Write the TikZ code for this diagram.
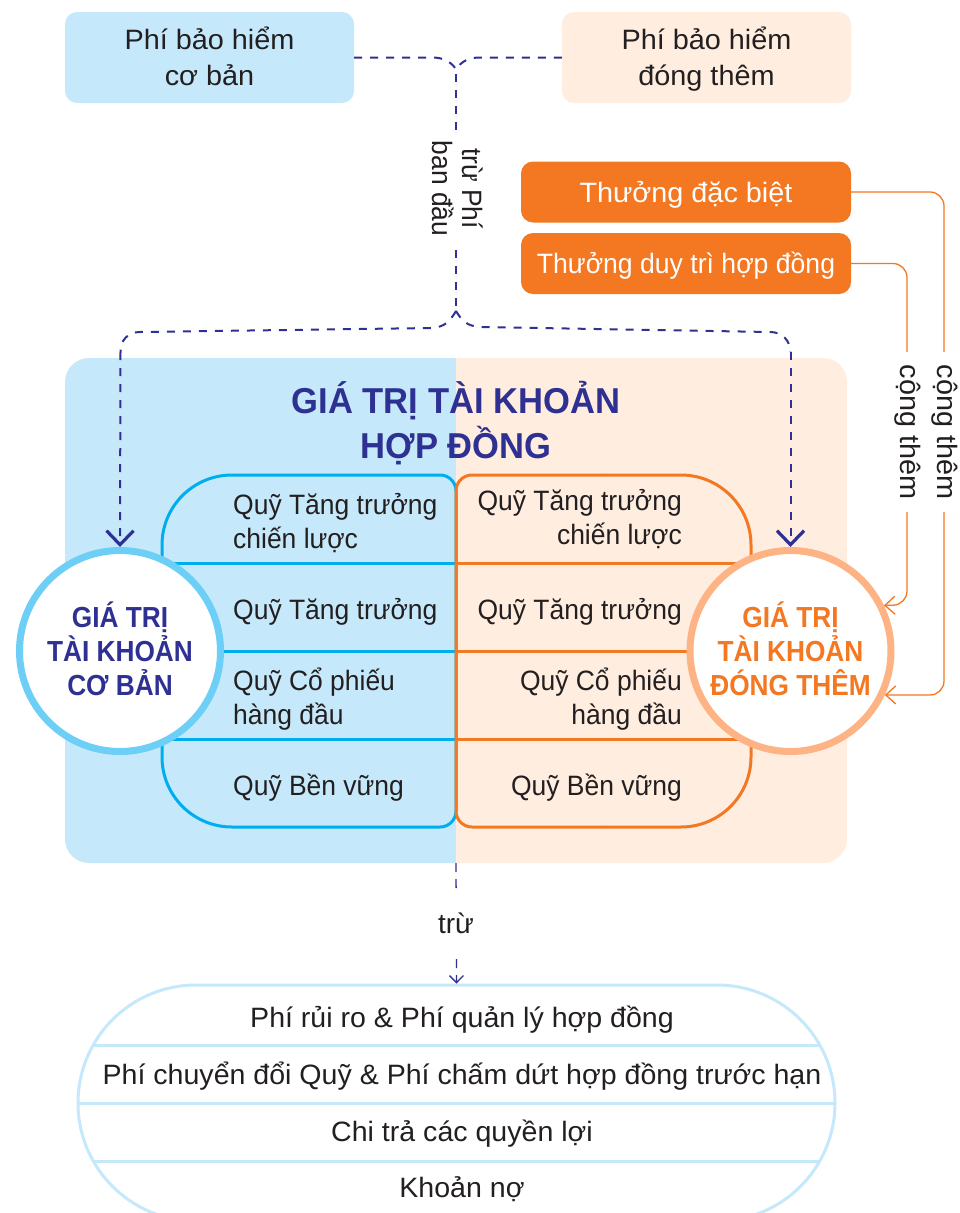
\documentclass[tikz,border=0pt]{standalone}
\usepackage{fontspec}
\setmainfont{Liberation Sans}
\newfontfamily\ffund[FakeStretch=0.945]{Liberation Sans}
\newfontfamily\fwide[FakeStretch=1.03]{Liberation Sans}
\newfontfamily\fbot[FakeStretch=1.02]{Liberation Sans}
\newfontfamily\fkeep[FakeStretch=0.95]{Liberation Sans}
\newfontfamily\ftitle[FakeStretch=0.96]{Liberation Sans}
\newfontfamily\fring[FakeStretch=0.905]{Liberation Sans}
\usetikzlibrary{arrows.meta}
\definecolor{navy}{HTML}{2E3192}
\definecolor{orng}{HTML}{F47721}
\definecolor{txt}{HTML}{231F20}
\definecolor{pblue}{HTML}{C5E9FA}
\definecolor{ppeach}{HTML}{FFEDE0}
\definecolor{cyanl}{HTML}{00AEEF}
\definecolor{ringb}{HTML}{6DCFF6}
\definecolor{ringo}{HTML}{FDB384}
\newcommand{\st}{\rule[-7pt]{0pt}{34pt}}
\newcommand{\sv}{\rule[-7pt]{0pt}{30pt}}
\newcommand{\sr}{\rule[-5pt]{0pt}{5pt}}
\tikzset{
  base/.style={font=\fontsize{28}{34}\selectfont, text=txt, inner sep=0pt},
  topbox/.style={font=\fwide\fontsize{28}{36}\selectfont, text=txt, inner sep=0pt, rounded corners=12pt, minimum width=289pt, minimum height=91pt, align=center},
  bonus/.style={text=white, fill=orng, rounded corners=12pt, minimum width=330pt, minimum height=61pt, inner sep=0pt},
  fund/.style={font=\ffund\fontsize{28}{34}\selectfont, text=txt, inner sep=0pt, align=left, anchor=west},
  fundr/.style={font=\ffund\fontsize{28}{34}\selectfont, text=txt, inner sep=0pt, align=right, anchor=east},
  cost/.style={font=\fbot\fontsize{28}{34}\selectfont, text=txt, inner sep=0pt},
  ring/.style={circle, fill=white, line width=7pt, minimum size=201pt, inner sep=0pt, align=center, font=\fring\fontsize{29}{34}\selectfont\bfseries},
  dash1/.style={navy, line width=2pt, dash pattern=on 8pt off 8pt},
  dash2/.style={navy, line width=1.3pt, dash pattern=on 9pt off 7pt},
  bonusline/.style={orng, line width=1.3pt, rounded corners=14pt, -{Straight Barb[length=10pt,width=18pt,line width=1.3pt]}},
  bigtip/.style={-{Straight Barb[length=14pt,width=27pt,line width=3.2pt]}},
  vlabel/.style={font=\ffund\fontsize{28}{30}\selectfont, text=txt, inner sep=0pt, rotate=-90, fill=white, align=center},
  fundline/.style={line width=3pt},
  pillline/.style={pblue, line width=3pt},
}
\begin{document}
\begin{tikzpicture}[x=1pt,y=-1pt]
\useasboundingbox (0,0) rectangle (960,1213);
\fill[white] (0,0) rectangle (960,1213);
\clip (0,0) rectangle (960,1213);

% top boxes
\node[topbox, fill=pblue] (premium) at (209.5,57.5) {\st Phí bảo hiểm\\\st cơ bản};
\node[topbox, fill=ppeach] (extra) at (706.5,57.5) {\st Phí bảo hiểm\\\st đóng thêm};
\node[bonus, font=\fwide\fontsize{28}{34}\selectfont] (special) at (686,192) {\st Thưởng đặc biệt};
\node[bonus, font=\fkeep\fontsize{28}{34}\selectfont] (loyalty) at (686,263.5) {\st Thưởng duy trì hợp đồng};

% main panel
\begin{scope}
\clip (65,358) rectangle (456,863);
\fill[pblue, rounded corners=24pt] (65,358) rectangle (847,863);
\end{scope}
\begin{scope}
\clip (456,358) rectangle (847,863);
\fill[ppeach, rounded corners=24pt] (65,358) rectangle (847,863);
\end{scope}
\node[font=\ftitle\fontsize{36}{45}\selectfont\bfseries, text=navy, align=center, inner sep=0pt] (title) at (456,423) {GIÁ TRỊ TÀI KHOẢN\\HỢP ĐỒNG};

% fund shapes
\draw[cyanl, fundline, rounded corners=70pt] (300,475) -- (162,475) -- (162,827) -- (300,827);
\draw[cyanl, fundline, rounded corners=16pt] (300,475) -- (456,475) -- (456,827) -- (300,827);
\foreach \yy in {563,651,739}{
  \draw[cyanl, fundline] (162,\yy) -- (455,\yy);
}
\draw[orng, fundline, rounded corners=70pt] (600,475) -- (751,475) -- (751,827) -- (600,827);
\draw[orng, fundline, rounded corners=16pt] (600,475) -- (456,475) -- (456,827) -- (600,827);
\foreach \yy in {563,651,739}{
  \draw[orng, fundline] (456,\yy) -- (751,\yy);
}
\node[fund] (fl1) at (233,521) {\st Quỹ Tăng trưởng\\\st chiến lược};
\node[fund] (fl2) at (233,609) {\st Quỹ Tăng trưởng};
\node[fund] (fl3) at (233,697) {\st Quỹ Cổ phiếu\\\st hàng đầu};
\node[fund] (fl4) at (233,785) {\st Quỹ Bền vững};
\node[fundr] (fr1) at (682,517) {\st Quỹ Tăng trưởng\\\st chiến lược};
\node[fundr] (fr2) at (682,609) {\st Quỹ Tăng trưởng};
\node[fundr] (fr3) at (682,697) {\st Quỹ Cổ phiếu\\\st hàng đầu};
\node[fundr] (fr4) at (682,785) {\st Quỹ Bền vững};

% circles
\node[ring, draw=ringb, text=navy] (cbase) at (120,651) {GIÁ TRỊ\\TÀI KHOẢN\\CƠ BẢN\sr};
\node[ring, draw=ringo, text=orng] (cextra) at (790.5,651) {GIÁ TRỊ\\TÀI KHOẢN\\ĐÓNG THÊM\sr};

% dashed flows
\coordinate (j1) at (456,69);
\coordinate (j2) at (456,311);
\draw[dash1] (premium.east) -- (432,57.5) .. controls (443,57.5) and (450,61) .. (j1);
\draw[dash1] (extra.west) -- (480,57.5) .. controls (469,57.5) and (462,61) .. (j1);
\draw[dash1] (j1) ++(0,5) -- (j2);
\node[vlabel, minimum width=117pt] (fee) at (455,188.5) {\sv trừ Phí\\\sv ban đầu};
\draw[dash1] (j2) .. controls (450,321) and (445,327) .. (432,328) -- (140,332) .. controls (128,332) and (120.5,340) .. (120.5,352);
\draw[dash1, bigtip] (120.5,352) -- (cbase.north);
\draw[dash1] (j2) .. controls (462,321) and (467,326) .. (480,327) -- (770,332) .. controls (782,332) and (790,340) .. (790.5,352);
\draw[dash1, bigtip] (790.5,352) -- (cextra.north);

% bonus flows
\draw[bonusline] (special.east) -| (944,695) -- (cextra.-25);
\draw[bonusline] (loyalty.east) -| (907,605) -- (cextra.26);
\node[vlabel, minimum width=160pt, font=\fwide\fontsize{28}{30}\selectfont] (plus1) at (945,432) {cộng thêm};
\node[vlabel, minimum width=160pt, font=\fwide\fontsize{28}{30}\selectfont] (plus2) at (908,432) {cộng thêm};

% bottom pill
\node[draw=pblue, line width=3pt, rounded corners=118pt, minimum width=757pt, minimum height=236pt, inner sep=0pt] (pill) at (456.5,1103) {};
\draw[pillline] (93,1045) -- (820,1045);
\draw[pillline] (78,1103) -- (835,1103);
\draw[pillline] (93,1161) -- (820,1161);
\node[cost] (c1) at (462,1017) {\st Phí rủi ro \& Phí quản lý hợp đồng};
\node[cost] (c2) at (462,1074) {\st Phí chuyển đổi Quỹ \& Phí chấm dứt hợp đồng trước hạn};
\node[cost] (c3) at (462,1131) {\st Chi trả các quyền lợi};
\node[cost] (c4) at (462,1187) {\st Khoản nợ};

\coordinate (panelbottom) at (456,863);
\draw[dash2, -{Straight Barb[length=7pt,width=14pt,line width=1.3pt]}] (panelbottom) -- (pill.north);
\node[base, fill=white, inner xsep=8pt, minimum height=62pt] (minus) at (456,923) {\st trừ};
\end{tikzpicture}
\end{document}
